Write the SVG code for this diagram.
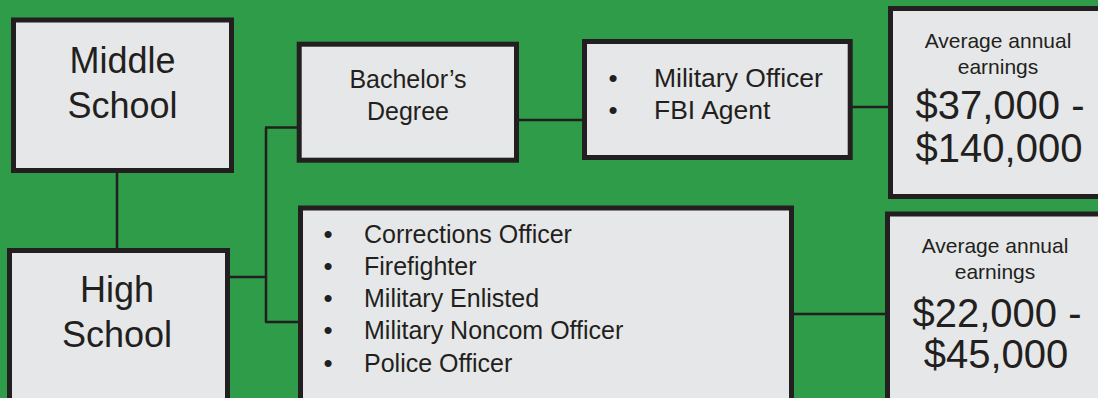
<svg xmlns="http://www.w3.org/2000/svg" width="1098" height="398" viewBox="0 0 1098 398">
<style>
.box{fill:#e6e7e8;stroke:#231f20;stroke-width:5}
.conn{stroke:#231f20;stroke-width:2.5;fill:none}
text{font-family:"Liberation Sans",Arial,sans-serif;fill:#231f20}
.big{font-size:36px;text-anchor:middle}
.mid{font-size:25px;text-anchor:middle}
.lst{font-size:26.5px}
.lst2{font-size:25px}
.bul{font-size:26px;text-anchor:middle}
.small{font-size:21px;text-anchor:middle}
.money{font-size:40px;text-anchor:middle}
</style>
<rect width="1098" height="398" fill="#2e9c48"/>
<g id="connectors">
<line class="conn" x1="117" y1="172" x2="117" y2="249"/>
<line class="conn" x1="229" y1="277" x2="266" y2="277"/>
<line class="conn" x1="266" y1="127.5" x2="266" y2="322"/>
<line class="conn" x1="265" y1="127.5" x2="298" y2="127.5"/>
<line class="conn" x1="265" y1="322" x2="299" y2="322"/>
<line class="conn" x1="518" y1="120" x2="583" y2="120"/>
<line class="conn" x1="852" y1="107" x2="889" y2="107"/>
<line class="conn" x1="793" y1="314" x2="886" y2="314"/>
</g>
<g id="middle-school">
<rect class="box" x="13.5" y="20" width="218" height="150.5"/>
<text class="big" x="122.5" y="73">Middle</text>
<text class="big" x="122.5" y="118">School</text>
</g>
<g id="high-school">
<rect class="box" x="9.5" y="250.5" width="218" height="200"/>
<text class="big" x="117" y="302">High</text>
<text class="big" x="117" y="347">School</text>
</g>
<g id="bachelors">
<rect class="box" x="299.2" y="44.2" width="217.3" height="116"/>
<text class="mid" x="408" y="88">Bachelor’s</text>
<text class="mid" x="408" y="120">Degree</text>
</g>
<g id="military-officer">
<rect class="box" x="584.5" y="41.5" width="265.7" height="116"/>
<text class="bul" x="613" y="87">•</text>
<text class="lst" x="654" y="87">Military Officer</text>
<text class="bul" x="613" y="119">•</text>
<text class="lst" x="654" y="119">FBI Agent</text>
</g>
<g id="earnings-high">
<rect class="box" x="890.5" y="8.5" width="220" height="188"/>
<text class="small" x="998" y="48">Average annual</text>
<text class="small" x="998" y="74">earnings</text>
<text class="money" x="1000" y="119">$37,000 -</text>
<text class="money" x="999" y="162">$140,000</text>
</g>
<g id="careers-list">
<rect class="box" x="300.5" y="208" width="491" height="200"/>
<text class="bul" x="328" y="243">•</text>
<text class="lst2" x="364" y="243">Corrections Officer</text>
<text class="bul" x="328" y="275">•</text>
<text class="lst2" x="364" y="275">Firefighter</text>
<text class="bul" x="328" y="307">•</text>
<text class="lst2" x="364" y="307">Military Enlisted</text>
<text class="bul" x="328" y="339">•</text>
<text class="lst2" x="364" y="339">Military Noncom Officer</text>
<text class="bul" x="328" y="371.5">•</text>
<text class="lst2" x="364" y="371.5">Police Officer</text>
</g>
<g id="earnings-low">
<rect class="box" x="887.5" y="214" width="220" height="200"/>
<text class="small" x="995" y="253">Average annual</text>
<text class="small" x="995" y="279">earnings</text>
<text class="money" x="997" y="327">$22,000 -</text>
<text class="money" x="996" y="368">$45,000</text>
</g>
</svg>
